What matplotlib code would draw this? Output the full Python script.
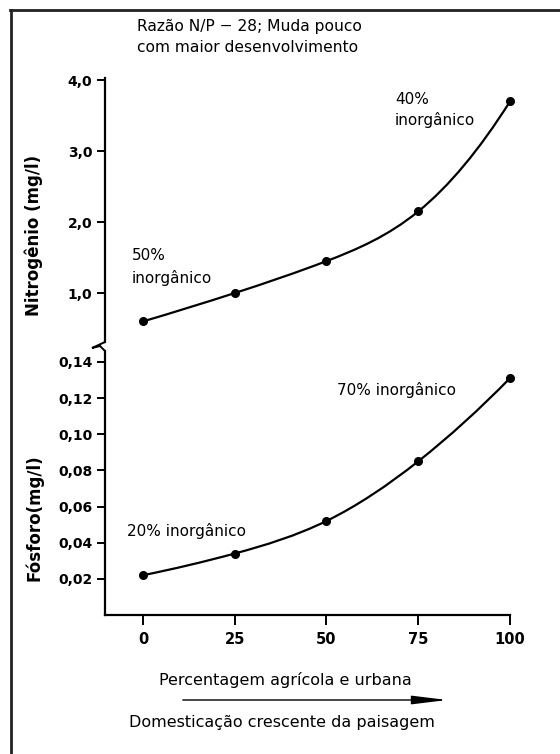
import numpy as np
import matplotlib
matplotlib.use("Agg")
import matplotlib.pyplot as plt
from matplotlib.path import Path
from matplotlib.patches import PathPatch, FancyArrowPatch
from matplotlib.lines import Line2D

# Dados
pct = [0, 25, 50, 75, 100]
nitrogenio = [0.6, 1.0, 1.45, 2.15, 3.7]
fosforo = [0.022, 0.034, 0.052, 0.085, 0.131]

n_ticks = [1.0, 2.0, 3.0, 4.0]
n_labels = ["1,0", "2,0", "3,0", "4,0"]
p_ticks = [0.02, 0.04, 0.06, 0.08, 0.10, 0.12, 0.14]
p_labels = ["0,02", "0,04", "0,06", "0,08", "0,10", "0,12", "0,14"]
x_ticks = [0, 25, 50, 75, 100]

W, H = 560, 754


def fx(x):
    return x / W


def fy(y):
    return 1 - y / H


def curva(ax, xs, ys):
    # traço suave (spline cúbica C2 desenhada como Bezier) pelos pontos
    xs = np.asarray(xs, float)
    ys = np.asarray(ys, float)
    n = len(xs)
    h = xs[1] - xs[0]
    d = np.diff(ys) / h
    A = np.zeros((n, n))
    b = np.zeros(n)
    A[0, 0], A[0, 1], b[0] = 1, 1, 2 * d[0]
    A[-1, -2], A[-1, -1], b[-1] = 1, 1, 2 * d[-1]
    for i in range(1, n - 1):
        A[i, i - 1], A[i, i], A[i, i + 1] = 1, 4, 1
        b[i] = 3 * (ys[i + 1] - ys[i - 1]) / h
    m = np.linalg.solve(A, b)
    verts = [(xs[0], ys[0])]
    codes = [Path.MOVETO]
    for i in range(n - 1):
        verts += [(xs[i] + h / 3, ys[i] + m[i] * h / 3),
                  (xs[i + 1] - h / 3, ys[i + 1] - m[i + 1] * h / 3),
                  (xs[i + 1], ys[i + 1])]
        codes += [Path.CURVE4] * 3
    ax.add_patch(PathPatch(Path(verts, codes), fill=False, lw=1.6,
                           edgecolor="black", clip_on=False))
    ax.plot(xs, ys, "o", color="black", ms=5.5, clip_on=False, zorder=5)


fig = plt.figure(figsize=(5.6, 7.54), dpi=100)

left, right = 105, 510
xmin = -10.35

# Nitrogênio (parte de cima)
ax1 = fig.add_axes([fx(left), fy(342), (right - left) / W, (342 - 78) / H])
ax1.set_xlim(xmin, 100)
ax1.set_ylim(0.31, 4.03)
curva(ax1, pct, nitrogenio)
ax1.set_yticks(n_ticks)
ax1.set_yticklabels(n_labels)
ax1.set_xticks([])
for s in ["top", "right", "bottom"]:
    ax1.spines[s].set_visible(False)
ax1.spines["left"].set_linewidth(1.6)

# Fósforo (parte de baixo)
ax2 = fig.add_axes([fx(left), fy(615), (right - left) / W, (615 - 351) / H])
ax2.set_xlim(xmin, 100)
ax2.set_ylim(0, 0.146)
curva(ax2, pct, fosforo)
ax2.set_yticks(p_ticks)
ax2.set_yticklabels(p_labels)
ax2.set_xticks(x_ticks)
ax2.set_xticklabels([str(v) for v in x_ticks])
for s in ["top", "right"]:
    ax2.spines[s].set_visible(False)
ax2.spines["left"].set_linewidth(1.6)
ax2.spines["bottom"].set_linewidth(1.6)

for ax in (ax1, ax2):
    ax.patch.set_alpha(0)
    ax.tick_params(axis="y", length=6, width=1.4, pad=3, labelsize=10)
    for lab in ax.get_yticklabels():
        lab.set_fontweight("bold")
ax2.tick_params(axis="x", length=7, width=1.4, pad=5, labelsize=10.5)
for lab in ax2.get_xticklabels():
    lab.set_fontweight("bold")

# quebra do eixo (zigue-zague)
fig.add_artist(Line2D([fx(105), fx(105), fx(92), fx(100), fx(105), fx(105)],
                      [fy(340), fy(342), fy(348), fy(346), fy(351), fy(353)],
                      color="black", lw=1.4, solid_joinstyle="miter"))

# rótulos dos eixos
fig.text(fx(34), fy(235), "Nitrogênio (mg/l)", rotation=90, ha="center",
         va="center", fontsize=12, fontweight="bold")
fig.text(fx(34), fy(518), "Fósforo(mg/l)", rotation=90, ha="center",
         va="center", fontsize=12, fontweight="bold")

# textos
fig.text(fx(137), fy(27), "Razão N/P − 28; Muda pouco", fontsize=11.2,
         va="center")
fig.text(fx(137), fy(47), "com maior desenvolvimento", fontsize=11.2,
         va="center")
fig.text(fx(395), fy(99), "40%", fontsize=11, va="center")
fig.text(fx(395), fy(120), "inorgânico", fontsize=11, va="center")
fig.text(fx(132), fy(255), "50%", fontsize=11, va="center")
fig.text(fx(132), fy(278), "inorgânico", fontsize=11, va="center")
fig.text(fx(337), fy(390), "70% inorgânico", fontsize=11, va="center")
fig.text(fx(127), fy(531), "20% inorgânico", fontsize=11, va="center")

fig.text(fx(285), fy(680), "Percentagem agrícola e urbana", fontsize=11.5,
         ha="center", va="center")
fig.text(fx(282), fy(723), "Domesticação crescente da paisagem", fontsize=11.5,
         ha="center", va="center")
fig.add_artist(FancyArrowPatch(
    (fx(180), fy(700)), (fx(450), fy(700)), transform=fig.transFigure,
    arrowstyle="-|>,head_length=1.8,head_width=0.22", mutation_scale=12,
    lw=1, color="black"))

# moldura (só topo e esquerda)
fig.add_artist(Line2D([fx(10), 1], [fy(10), fy(10)], color="#222222", lw=2))
fig.add_artist(Line2D([fx(11), fx(11)], [fy(10), 0], color="#222222", lw=2))

fig.savefig("out.png", dpi=100)
